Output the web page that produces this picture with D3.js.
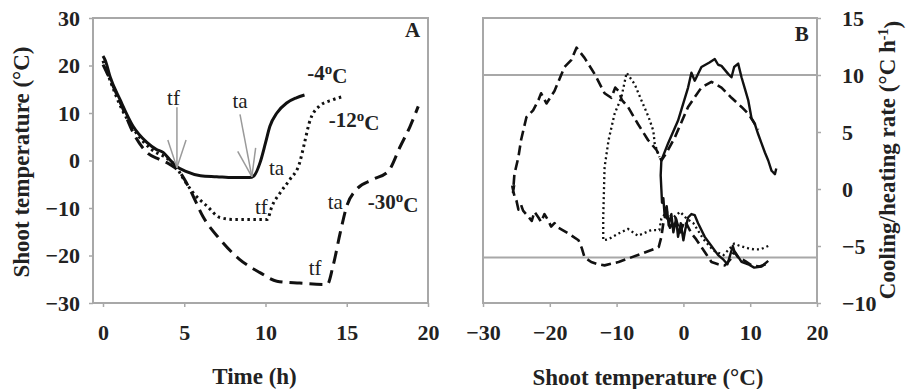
<!DOCTYPE html>
<html>
<head>
<meta charset="utf-8">
<script src="https://cdn.jsdelivr.net/npm/d3@7"></script>
<style>
  body { margin: 0; background: #fff; }
  svg text { font-family: "Liberation Serif", "Times New Roman", serif; fill: #222; }
</style>
</head>
<body>
<div id="chart"></div>
<script>
// ---- panel A: shoot temperature vs time, [hours, degC]
const runMinus4 = [[0,22],[0.15,21],[0.43,17.7],[1.05,12.8],[1.85,7.2],[2.7,3.8],[3.3,2.3],[3.7,1.7],[4.1,0.2],[4.5,-1.2],[5.1,-2.3],[6,-3.2],[7,-3.4],[8,-3.6],[9,-3.6],[9.3,-3.2],[9.66,-0.5],[10,3.7],[10.27,7.2],[10.7,10],[11.3,12.1],[11.9,13.2],[12.4,13.8]];
const runMinus12 = [[0,21],[0.5,16.3],[1,12],[2,6],[3,2.3],[4,0.3],[4.5,-1.3],[4.85,-3.3],[5.55,-6.8],[6.4,-9.6],[7.2,-12],[8,-12.4],[10.1,-12.4],[10.4,-9.6],[10.9,-6.8],[11.5,-4],[12.1,-0.5],[12.4,3.7],[12.7,8],[13.3,11.4],[14.15,12.8],[14.7,13.4]];
const runMinus30 = [[0,20.2],[0.63,15.6],[1.25,10.7],[1.85,5.9],[2.7,1.7],[3.5,0.2],[4.1,-0.8],[4.75,-2.6],[5.35,-6.1],[6.15,-11.8],[7.2,-16.6],[8.4,-20.8],[9.66,-23.6],[10.7,-25.4],[12.1,-25.8],[13.8,-26.1],[14.15,-22.3],[14.6,-15.2],[15,-9.6],[15.6,-6.1],[16.6,-4],[17.55,-2.3],[18.3,3],[18.9,7.2],[19.4,11.4]];

// ---- panel B: cooling/heating rate vs shoot temperature, [degC, degC/h]
const rateMinus4 = [[12.7,-6.3],[11.7,-6.8],[10.6,-6.9],[9.7,-6.6],[8.7,-6.4],[7.6,-5.4],[7.4,-5.0],[6.9,-6.0],[6.6,-6.6],[6.0,-6.2],[5.2,-5.8],[4.2,-5.0],[3.2,-4.2],[2.2,-3.0],[1.7,-2.3],[1.2,-2.2],[0.7,-2.5],[0.3,-3.5],[0,-4.5],[-0.4,-3.0],[-0.8,-4.2],[-1.1,-2.6],[-1.5,-3.8],[-1.8,-2.2],[-2.2,-3.2],[-2.5,-1.5],[-2.8,-2.4],[-3.0,-0.8],[-3.2,-1.2],[-3.3,0],[-3.4,1.2],[-3.3,2.5],[-2.3,4],[-0.8,6],[0.7,8.9],[1.2,10.2],[1.7,9.5],[2.7,10.7],[3.9,11.1],[4.7,11.4],[5.2,10.9],[5.7,10.8],[6.7,10.1],[7.2,9.8],[7.6,10.7],[8.2,11],[8.7,9.8],[9.2,8.8],[9.7,7.8],[10.2,6.2],[10.7,5.7],[11.2,4.8],[11.7,4],[12.2,3.2],[12.7,2.5],[13.2,1.6],[13.7,1.3],[13.9,1.8]];
const rateMinus12 = [[12.7,-5.0],[11.5,-5.3],[10.6,-5.3],[9.7,-5.2],[8.5,-5.0],[7.6,-4.8],[6.0,-5.8],[4.5,-5.4],[3,-4.4],[1.5,-3.0],[0.5,-2.6],[-0.5,-2.0],[-1.5,-2.5],[-2.5,-2.0],[-3.3,-2.6],[-3.6,-3.6],[-4.8,-3.6],[-6.8,-4.1],[-8.3,-3.5],[-9.7,-3.9],[-11.2,-4.4],[-12,-4.5],[-12,-2.5],[-11.8,1.9],[-11.2,4.3],[-10.3,6.6],[-9.3,8],[-8.5,10.2],[-7.3,9.2],[-6.3,7.8],[-5.2,6.3],[-4.5,5.1],[-4.3,4],[-3.6,2.8]];
const rateMinus30 = [[12.3,-6.6],[11.4,-6.8],[10.2,-6.7],[9.2,-6.3],[8.2,-6.0],[7.6,-5.5],[7.0,-6.2],[6.2,-6.7],[5.2,-6.6],[4.2,-6.4],[3.4,-5.7],[2.7,-5.1],[1.9,-4.4],[1.2,-3.9],[0.6,-3.2],[0.2,-2.8],[-0.5,-3.8],[-1.2,-2.5],[-2.0,-3.4],[-2.6,-2.2],[-3.0,-3.0],[-3.3,-4.2],[-3.7,-5.1],[-5.9,-5.6],[-7.8,-6.0],[-9.7,-6.4],[-11.8,-6.7],[-12.8,-6.6],[-13.8,-6.4],[-14.8,-6.0],[-15.2,-5.2],[-15.7,-4.5],[-17.2,-3.9],[-18.7,-3.4],[-19.3,-3.0],[-19.8,-3.3],[-20.2,-2.8],[-20.8,-2.2],[-21.3,-2.9],[-21.7,-2.5],[-22.3,-2.0],[-22.7,-2.8],[-23.4,-2.3],[-24.0,-1.9],[-24.3,-1.4],[-24.7,-1.8],[-25.0,-1.0],[-25.3,-0.6],[-25.6,0.2],[-25.3,0.5],[-25.5,-0.3],[-25.3,1.3],[-24.7,2.8],[-24.3,4.3],[-23.5,6.3],[-22.5,6.9],[-21.7,7.8],[-21.3,8.4],[-20.5,7.5],[-19.3,8.6],[-17.8,10.7],[-16.8,11.3],[-16,12.4],[-14.8,11.5],[-13.3,10.1],[-11.8,8.4],[-10.8,8],[-10.2,8.9],[-9.7,8.6],[-9.2,7.8],[-8.3,7.2],[-6.8,5.7],[-5.3,4.3],[-4,3.4],[-3.3,2.5],[-2.5,3.2],[-1.3,4.5],[0.7,7.2],[2.7,8.9],[4.2,9.4],[5.7,8.9],[7.2,8],[8.7,7.2],[9.7,6.6],[10.5,5.9],[11.2,5.2]];

const ticksA_x = [0, 5, 10, 15, 20];
const ticksA_y = [-30, -20, -10, 0, 10, 20, 30];
const ticksB_x = [-30, -20, -10, 0, 10, 20];
const ticksB_y = [-10, -5, 0, 5, 10, 15];
const refLinesB = [10, -6];

const W = 912, H = 389;
const axisGrey = "#a8a8a8";

const svg = d3.select("#chart").append("svg")
  .attr("width", W).attr("height", H);

svg.append("rect").attr("width", W).attr("height", H).attr("fill", "#fff");

// layout of the two plot boxes
const boxA = { left: 93, right: 428, top: 18, bottom: 303 };
const boxB = { left: 483, right: 817, top: 18, bottom: 303 };

const xA = d3.scaleLinear().domain([-0.615, 20]).range([boxA.left, boxA.right]);
const yA = d3.scaleLinear().domain([-30, 30]).range([boxA.bottom, boxA.top]);
const xB = d3.scaleLinear().domain([-30, 20]).range([boxB.left, boxB.right]);
const yB = d3.scaleLinear().domain([-10, 15]).range([boxB.bottom, boxB.top]);

function styleAxis(g) {
  g.select(".domain").remove();
  g.selectAll(".tick line").attr("stroke", axisGrey).attr("stroke-width", 1.5);
  g.selectAll(".tick text")
    .style("font-family", "'Liberation Serif', serif")
    .style("font-weight", "bold")
    .style("font-size", "22px")
    .attr("fill", "#222");
}

function frame(b) {
  svg.append("rect")
    .attr("x", b.left).attr("y", b.top)
    .attr("width", b.right - b.left).attr("height", b.bottom - b.top)
    .attr("fill", "none").attr("stroke", axisGrey).attr("stroke-width", 2);
}

// ---------- Panel A ----------
frame(boxA);

svg.append("g")
  .attr("transform", "translate(0," + boxA.bottom + ")")
  .call(d3.axisBottom(xA).tickValues(ticksA_x).tickSizeInner(4).tickSizeOuter(0).tickPadding(17))
  .call(styleAxis);

svg.append("g")
  .attr("transform", "translate(" + boxA.left + ",0)")
  .call(d3.axisLeft(yA).tickValues(ticksA_y).tickSizeInner(4).tickSizeOuter(0).tickPadding(9))
  .call(styleAxis);

const lineA = d3.line().x(d => xA(d[0])).y(d => yA(d[1])).curve(d3.curveMonotoneX);

svg.append("path").datum(runMinus30).attr("d", lineA)
  .attr("fill", "none").attr("stroke", "#111").attr("stroke-width", 3)
  .attr("stroke-dasharray", "13,7");
svg.append("path").datum(runMinus12).attr("d", lineA)
  .attr("fill", "none").attr("stroke", "#111").attr("stroke-width", 3)
  .attr("stroke-dasharray", "2.5,3.5");
svg.append("path").datum(runMinus4).attr("d", lineA)
  .attr("fill", "none").attr("stroke", "#111").attr("stroke-width", 3);

// grey arrows marking tf / ta on the -4 run
const arrows = [
  { from: [4.55, 11.2], to: [4.55, -1.5] },
  { from: [8.43, 9.7], to: [9.16, -3.4] }
];
arrows.forEach(a => {
  const x1 = xA(a.from[0]), y1 = yA(a.from[1]);
  const x2 = xA(a.to[0]), y2 = yA(a.to[1]);
  const ang = Math.atan2(y2 - y1, x2 - x1);
  const len = 29, spread = 0.32;
  const g = svg.append("g").attr("stroke", "#9a9a9a").attr("stroke-width", 1.5).attr("fill", "none");
  g.append("line").attr("x1", x1).attr("y1", y1).attr("x2", x2).attr("y2", y2);
  [-spread, spread].forEach(s => {
    g.append("line")
      .attr("x1", x2 - len * Math.cos(ang + s)).attr("y1", y2 - len * Math.sin(ang + s))
      .attr("x2", x2).attr("y2", y2);
  });
});

// text annotations in panel A (data coordinates)
const notesA = [
  { t: "tf", x: 4.34, y: 13.2 },
  { t: "ta", x: 8.43, y: 12.6 },
  { t: "ta", x: 10.68, y: -1.6 },
  { t: "tf", x: 9.75, y: -9.8 },
  { t: "ta", x: 14.3, y: -8.7 },
  { t: "tf", x: 13.05, y: -22.6 }
];
notesA.forEach(n => {
  svg.append("text")
    .attr("x", xA(n.x)).attr("y", yA(n.y))
    .attr("text-anchor", "middle").attr("dy", "0.35em")
    .style("font-size", "21px")
    .text(n.t);
});

const tempLabels = [
  { t: "-4", x: 13.8, y: 18.4 },
  { t: "-12", x: 15.45, y: 8.5 },
  { t: "-30", x: 17.85, y: -8.7 }
];
tempLabels.forEach(n => {
  const txt = svg.append("text")
    .attr("x", xA(n.x)).attr("y", yA(n.y))
    .attr("text-anchor", "middle").attr("dy", "0.35em")
    .style("font-size", "21px").style("font-weight", "bold");
  txt.append("tspan").text(n.t);
  txt.append("tspan").attr("dy", "-0.45em").style("font-size", "15px").text("o");
  txt.append("tspan").attr("dy", "0.45em").text("C");
});

svg.append("text")
  .attr("x", xA(19.05)).attr("y", yA(27.6)).attr("dy", "0.35em")
  .attr("text-anchor", "middle")
  .style("font-size", "21px").style("font-weight", "bold")
  .text("A");

svg.append("text")
  .attr("x", (boxA.left + boxA.right) / 2 - 6).attr("y", 384)
  .attr("text-anchor", "middle")
  .style("font-size", "23px").style("font-weight", "bold")
  .text("Time (h)");

svg.append("text")
  .attr("transform", "translate(29," + 162 + ") rotate(-90)")
  .attr("text-anchor", "middle")
  .style("font-size", "23px").style("font-weight", "bold")
  .text("Shoot temperature (°C)");

// ---------- Panel B ----------
frame(boxB);

svg.append("g").selectAll("line").data(refLinesB).enter().append("line")
  .attr("x1", boxB.left).attr("x2", boxB.right)
  .attr("y1", d => yB(d)).attr("y2", d => yB(d))
  .attr("stroke", axisGrey).attr("stroke-width", 2);

svg.append("g")
  .attr("transform", "translate(0," + boxB.bottom + ")")
  .call(d3.axisBottom(xB).tickValues(ticksB_x).tickSizeInner(4).tickSizeOuter(0).tickPadding(17))
  .call(styleAxis);

svg.append("g")
  .attr("transform", "translate(" + boxB.right + ",0)")
  .call(d3.axisRight(yB).tickValues(ticksB_y).tickSizeInner(4).tickSizeOuter(0).tickPadding(21))
  .call(styleAxis);

const lineB = d3.line().x(d => xB(d[0])).y(d => yB(d[1]));

svg.append("path").datum(rateMinus30).attr("d", lineB)
  .attr("fill", "none").attr("stroke", "#111").attr("stroke-width", 2.6)
  .attr("stroke-linejoin", "round")
  .attr("stroke-dasharray", "10,5");
svg.append("path").datum(rateMinus12).attr("d", lineB)
  .attr("fill", "none").attr("stroke", "#111").attr("stroke-width", 2.3)
  .attr("stroke-dasharray", "2,3");
svg.append("path").datum(rateMinus4).attr("d", lineB)
  .attr("fill", "none").attr("stroke", "#111").attr("stroke-width", 2.4)
  .attr("stroke-linejoin", "round");

svg.append("text")
  .attr("x", xB(17.7)).attr("y", yB(13.6)).attr("dy", "0.35em")
  .attr("text-anchor", "middle")
  .style("font-size", "21px").style("font-weight", "bold")
  .text("B");

svg.append("text")
  .attr("x", (boxB.left + boxB.right) / 2 - 2).attr("y", 385)
  .attr("text-anchor", "middle")
  .style("font-size", "23px").style("font-weight", "bold")
  .text("Shoot temperature (°C)");

const rTitle = svg.append("text")
  .attr("transform", "translate(895," + 160 + ") rotate(-90)")
  .attr("text-anchor", "middle")
  .style("font-size", "23px").style("font-weight", "bold");
rTitle.append("tspan").text("Cooling/heating rate (°C h");
rTitle.append("tspan").attr("dy", "-0.5em").style("font-size", "14px").text("-1");
rTitle.append("tspan").attr("dy", "0.5em").text(")");
</script>
</body>
</html>
